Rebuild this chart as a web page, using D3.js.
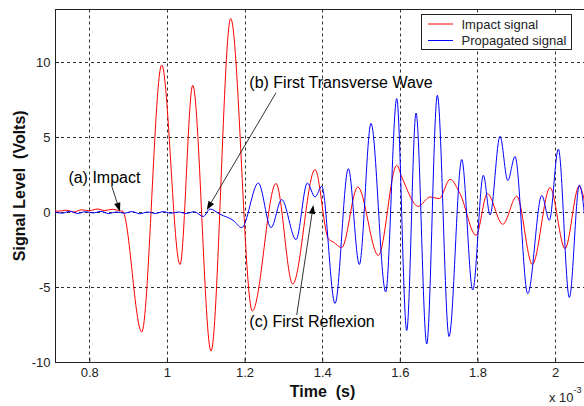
<!DOCTYPE html>
<html><head><meta charset="utf-8">
<script src="https://cdn.jsdelivr.net/npm/d3@7"></script>
<style>body{margin:0;background:#fff;overflow:hidden} svg{display:block;font-family:"Liberation Sans",Arial,sans-serif;}</style>
</head><body><svg id="c" width="584" height="406"></svg>
<script>
// ---- data (time in ms ×10^-3 s, signal in volts) ----
const impactT = [0.7116,0.72,0.74,0.76,0.78,0.80,0.82,0.84,0.86,0.875,0.886,0.935,0.9866,1.0337,1.0664,1.1136,1.1643,1.22,1.281,1.3241,1.3816,1.4158,1.4287,1.4503,1.4916,1.5447,1.5921,1.605,1.6477,1.6779,1.7018,1.7294,1.7552,1.7964,1.8255,1.8652,1.9013,1.9415,1.9871,2.0257,2.0618,2.08];
const impactV = [0.1,0.05,0.12,0.0,0.15,0.08,0.2,0.1,0.18,0.1,0.05,-8.0,9.8,-3.5,8.45,-9.27,12.9,-6.6,1.9,-4.8,2.83,-1.78,-2.0,-2.37,1.67,-2.9,3.11,2.33,0.38,1.0,0.9,2.18,1.22,-1.55,1.22,-0.82,1.05,-3.49,1.63,-2.44,1.71,0.2];
const propT = [0.7116,0.73,0.75,0.77,0.79,0.81,0.83,0.85,0.87,0.89,0.91,0.93,0.95,0.97,0.99,1.01,1.03,1.05,1.07,1.0937,1.111,1.1368,1.1703,1.1927,1.2355,1.2682,1.2957,1.3326,1.3617,1.3816,1.3988,1.4331,1.4674,1.4957,1.5258,1.5637,1.5921,1.6178,1.6418,1.6694,1.6967,1.7268,1.7595,1.7879,1.8152,1.8325,1.8582,1.8781,1.8969,1.9296,1.9657,1.9853,2.0085,2.0368,2.0626,2.085];
const propV = [0.0,-0.08,0.05,-0.1,0.02,-0.06,0.04,-0.1,0.0,-0.08,0.03,-0.12,0.0,-0.1,0.02,-0.08,0.0,-0.1,0.02,-0.3,0.2,-0.15,-0.55,-1.04,1.93,-1.04,0.83,-1.84,1.93,1.0,1.71,-6.1,2.89,-3.5,5.9,-5.33,7.56,-7.9,6.6,-8.8,7.78,-8.3,3.5,-5.2,2.45,-0.2,5.05,2.1,3.7,-5.45,1.1,-0.55,4.2,-5.7,1.8,-3.0];
const xTicks = [0.8,1.0,1.2,1.4,1.6,1.8,2.0];
const xTickLabels = ["0.8","1","1.2","1.4","1.6","1.8","2"];
const yTicks = [-10,-5,0,5,10];
const yTickLabels = ["-10","-5","0","5","10"];
const seriesNames = ["Impact signal","Propagated signal"];
const seriesColors = ["#ff0000","#0000ff"];
const annLabels = ["(a) Impact","(b) First Transverse Wave","(c) First Reflexion"];
const annTextT = [0.7461,1.2123,1.2123];
const annTextV = [1.93,8.27,-7.67];
const annFromT = [0.8577,1.281,1.3344];
const annFromV = [1.73,7.95,-6.87];
const annTipT = [0.8791,1.1025,1.3772];
const annTipV = [0.02,0.13,0.47];

// ---- layout ----
const L = 55, T = 9.5, B = 362, R = 590;
const svg = d3.select("#c");
const x = d3.scaleLinear().domain([0.7116, 2.09]).range([L, R]);
const y = d3.scaleLinear().domain([-10, 13.5]).range([B, T]);

svg.append("defs").append("clipPath").attr("id","clip")
  .append("rect").attr("x",L).attr("y",T).attr("width",R-L).attr("height",B-T);

// grid
const grid = svg.append("g").attr("stroke","#333").attr("stroke-width",1).attr("stroke-dasharray","3,3");
xTicks.forEach(t => grid.append("line")
  .attr("x1",Math.round(x(t))+0.5).attr("x2",Math.round(x(t))+0.5).attr("y1",T).attr("y2",B));
yTicks.filter(v=>v>-10).forEach(v => grid.append("line")
  .attr("y1",Math.round(y(v))+0.5).attr("y2",Math.round(y(v))+0.5).attr("x1",L).attr("x2",R));

// axes
const xAxis = d3.axisBottom(x).tickValues(xTicks).tickFormat((d,i)=>xTickLabels[i])
  .tickSizeInner(-4).tickSizeOuter(0).tickPadding(6);
const gx = svg.append("g").attr("transform",`translate(0,${B})`).call(xAxis);
const yAxis = d3.axisLeft(y).tickValues(yTicks).tickFormat((d,i)=>yTickLabels[i])
  .tickSizeInner(-4).tickSizeOuter(0).tickPadding(4.5);
const gy = svg.append("g").attr("transform",`translate(${L},0)`).call(yAxis);
[gx,gy].forEach(g=>{
  g.attr("font-family",null).attr("font-size",null);
  g.selectAll("text").attr("font-size",13).attr("fill","#222");
  g.selectAll("line").attr("stroke","#222");
  g.select(".domain").remove();
});
gy.selectAll("text").attr("dy","0.34em");

// frame
const frame = svg.append("g").attr("stroke","#222").attr("stroke-width",1).attr("fill","none");
frame.append("rect").attr("x",L+0.5).attr("y",T).attr("width",R-L).attr("height",B-T+0.5);

// series
const line = d3.line().curve(d3.curveMonotoneX).x(d=>x(d[0])).y(d=>y(d[1]));
const series = [d3.zip(impactT, impactV), d3.zip(propT, propV)];
const plot = svg.append("g").attr("clip-path","url(#clip)");
series.forEach((s,i)=> plot.append("path").datum(s).attr("d",line)
  .attr("fill","none").attr("stroke",seriesColors[i]).attr("stroke-width",1));

// annotations
const ann = svg.append("g");
annLabels.forEach((lab,i)=>{
  ann.append("text").attr("x",x(annTextT[i])).attr("y",y(annTextV[i]))
    .attr("font-size",16).attr("fill","#000").text(lab);
  const x1=x(annFromT[i]), y1=y(annFromV[i]), x2=x(annTipT[i]), y2=y(annTipV[i]);
  const ang=Math.atan2(y2-y1,x2-x1), hl=9, hw=3.2;
  const bx=x2-hl*Math.cos(ang), by=y2-hl*Math.sin(ang);
  ann.append("line").attr("x1",x1).attr("y1",y1).attr("x2",bx).attr("y2",by)
    .attr("stroke","#000").attr("stroke-width",0.8);
  const px=-Math.sin(ang)*hw, py=Math.cos(ang)*hw;
  ann.append("polygon").attr("points",`${x2},${y2} ${bx+px},${by+py} ${bx-px},${by-py}`).attr("fill","#000");
});

// axis titles
svg.append("text").attr("x",(L+R)/2).attr("y",397).attr("text-anchor","middle")
  .attr("font-size",16).attr("font-weight","bold").attr("fill","#111").style("white-space","pre")
  .text("Time  (s)");
svg.append("text").attr("transform",`translate(25,${(T+B)/2}) rotate(-90)`).attr("text-anchor","middle")
  .attr("font-size",16).attr("font-weight","bold").attr("fill","#111").style("white-space","pre")
  .text("Signal Level  (Volts)");
const ex = svg.append("text").attr("x",549).attr("y",402).attr("font-size",13).attr("fill","#222");
ex.append("tspan").text("x 10");
ex.append("tspan").attr("dy",-9).attr("font-size",9).text("-3");

// legend
const lg = svg.append("g");
lg.append("rect").attr("x",421.5).attr("y",14.5).attr("width",150).attr("height",35)
  .attr("fill","#fff").attr("stroke","#222");
seriesNames.forEach((n,i)=>{
  const yy = 24 + i*16.5;
  lg.append("line").attr("x1",428).attr("x2",453).attr("y1",yy).attr("y2",yy)
    .attr("stroke",seriesColors[i]).attr("stroke-width",1);
  lg.append("text").attr("x",461.5).attr("y",yy+4.6).attr("font-size",13).attr("fill","#222").text(n);
});
</script></body></html>
